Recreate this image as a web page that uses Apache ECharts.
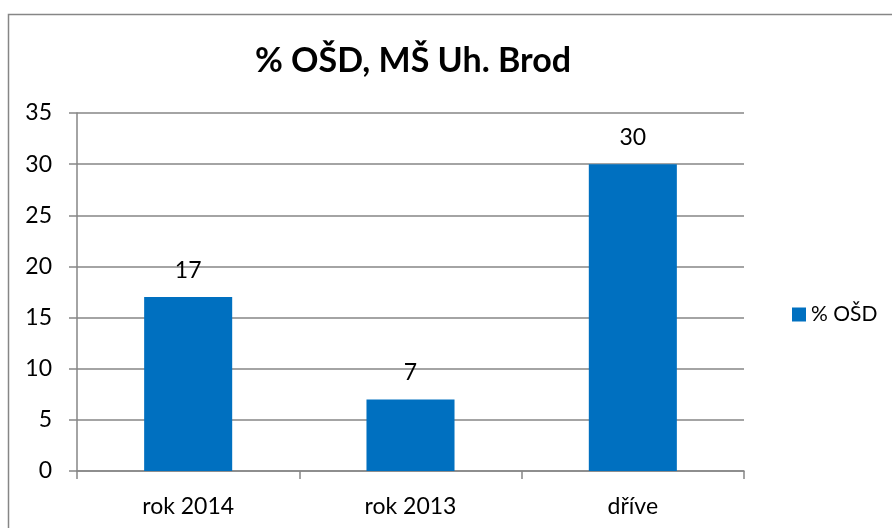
<!DOCTYPE html>
<html>
<head>
<meta charset="utf-8">
<script src="https://cdn.jsdelivr.net/npm/echarts@6/dist/echarts.min.js"></script>
<style>html,body{margin:0;padding:0;background:#fff;}#c{width:892px;height:528px;}</style>
</head>
<body>
<div id="c"></div>
<script>
const categories = ['rok 2014', 'rok 2013', 'dříve'];
const seriesName = '% OŠD';
const values = [17, 7, 30];
const titleText = '% OŠD, MŠ Uh. Brod';

const FONT = 'Lato, "Open Sans", sans-serif';
const chart = echarts.init(document.getElementById('c'), null, {renderer: 'canvas'});
chart.setOption({
  animation: false,
  backgroundColor: '#fff',
  graphic: [{
    type: 'rect', shape: {x: 8.5, y: 14.5, width: 1000, height: 1000},
    style: {fill: 'none', stroke: '#868686', lineWidth: 1.5}, silent: true
  }],
  title: {
    text: titleText, left: 408, top: 39, textAlign: 'center',
    textStyle: {fontFamily: FONT, fontWeight: 'bold', fontSize: 34, color: '#000'}
  },
  legend: {
    data: [seriesName], left: 787, top: 299, icon: 'rect', itemWidth: 14, itemHeight: 14, itemGap: 6,
    textStyle: {fontFamily: FONT, fontSize: 21, color: '#000'}
  },
  grid: {left: 77, right: 148, top: 113, bottom: 57},
  xAxis: {
    type: 'category', data: categories,
    axisLine: {lineStyle: {color: '#868686', width: 1.5}},
    axisTick: {show: true, length: 8, alignWithLabel: false, lineStyle: {color: '#868686', width: 1.5}},
    axisLabel: {fontFamily: FONT, fontSize: 23, color: '#000', margin: 24}
  },
  yAxis: {
    type: 'value', min: 0, max: 35, interval: 5,
    axisLine: {show: true, lineStyle: {color: '#868686', width: 1.5}},
    axisTick: {show: true, length: 8, lineStyle: {color: '#868686', width: 1.5}},
    axisLabel: {fontFamily: FONT, fontSize: 23, color: '#000', margin: 25},
    splitLine: {show: true, lineStyle: {color: '#868686', width: 1.5}}
  },
  series: [{
    name: seriesName, type: 'bar', data: values, barWidth: '39.6%',
    itemStyle: {color: '#0070C0'},
    label: {show: true, position: 'top', distance: 15, fontFamily: FONT, fontSize: 23, color: '#000'}
  }]
});
</script>
</body>
</html>
